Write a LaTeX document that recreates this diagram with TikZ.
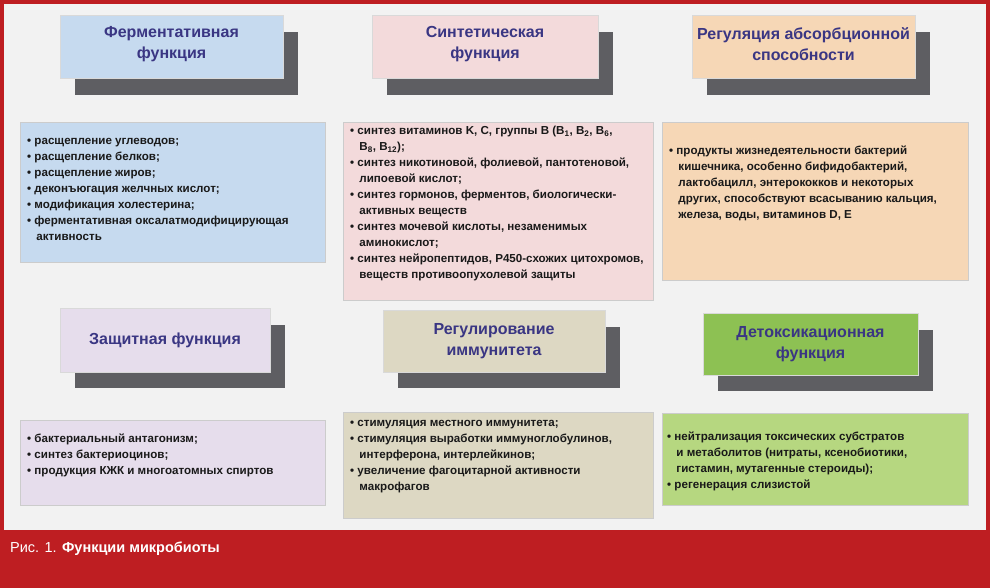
\documentclass[tikz,border=0pt]{standalone}
\usepackage{fontspec}
\setmainfont{Liberation Sans}
\definecolor{frame}{HTML}{BE1E22}
\definecolor{bgc}{HTML}{F2F2F2}
\definecolor{shd}{HTML}{5E5E62}
\definecolor{ttl}{HTML}{3A3683}
\definecolor{cblue}{HTML}{C6DAEF}
\definecolor{cpink}{HTML}{F3DADB}
\definecolor{cpeach}{HTML}{F6D7B6}
\definecolor{clav}{HTML}{E6DDEC}
\definecolor{cbeige}{HTML}{DDD8C3}
\definecolor{cgreen}{HTML}{8DC153}
\definecolor{clgreen}{HTML}{B6D780}
\tikzset{
  ttlbox/.style={draw=white!85!black,line width=0.4pt},
  shdbox/.style={fill=shd},
  ctext/.style={anchor=north west,align=left,font=\bfseries\fontsize{11.6}{16}\selectfont,inner sep=0pt,text=black!90},
  ttext/.style={align=center,font=\bfseries\fontsize{16}{21}\selectfont,text=ttl,inner sep=0pt},
  cbox/.style={draw=white!80!black,line width=0.4pt}
}
\newcommand{\bul}{\textbullet\ }
\newcommand{\ind}{\hspace*{0.8em}}
\begin{document}
\begin{tikzpicture}[x=1pt,y=-1pt]
\fill[frame] (0,0) rectangle (990,588);
\fill[bgc] (4,4) rectangle (986,530);
\node[anchor=west,text=white,font=\fontsize{14.5}{16}\selectfont,inner sep=0pt] (cap) at (10,549) {Рис. 1. \textbf{Функции микробиоты}};
% titles row 1
\fill[shdbox] (75,32) rectangle (298,95);
\fill[cblue,ttlbox] (60,15) rectangle (283,78);
\node[ttext] (t1) at (171.5,44) {Ферментативная\\функция};
\fill[shdbox] (387,32) rectangle (613,95);
\fill[cpink,ttlbox] (372,15) rectangle (598,78);
\node[ttext] (t2) at (485,44) {Синтетическая\\функция};
\fill[shdbox] (707,32) rectangle (930,95);
\fill[cpeach,ttlbox] (692,15) rectangle (915,78);
\node[ttext] (t3) at (803.5,44) {Регуляция абсорбционной\\способности};
% content row 1
\fill[cblue,cbox] (20,122) rectangle (325,262);
\node[ctext] (c1) at (27,138) {\bul расщепление углеводов;\\\bul расщепление белков;\\\bul расщепление жиров;\\\bul деконъюгация желчных кислот;\\\bul модификация холестерина;\\\bul ферментативная оксалатмодифицирующая\\\ind активность};
\fill[cpink,cbox] (343,122) rectangle (653,300);
\node[ctext] (c2) at (350,126) {\bul синтез витаминов K, C, группы B (B\textsubscript{1}, B\textsubscript{2}, B\textsubscript{6},\\\ind B\textsubscript{8}, B\textsubscript{12});\\\bul синтез никотиновой, фолиевой, пантотеновой,\\\ind липоевой кислот;\\\bul синтез гормонов, ферментов, биологически-\\\ind активных веществ\\\bul синтез мочевой кислоты, незаменимых\\\ind аминокислот;\\\bul синтез нейропептидов, P450-схожих цитохромов,\\\ind веществ противоопухолевой защиты};
\fill[cpeach,cbox] (662,122) rectangle (968,280);
\node[ctext] (c3) at (669,146) {\bul продукты жизнедеятельности бактерий\\\ind кишечника, особенно бифидобактерий,\\\ind лактобацилл, энтерококков и некоторых\\\ind других, способствуют всасыванию кальция,\\\ind железа, воды, витаминов D, E};
% titles row 2
\fill[shdbox] (75,325) rectangle (285,388);
\fill[clav,ttlbox] (60,308) rectangle (270,372);
\node[ttext] (t4) at (165,340) {Защитная функция};
\fill[shdbox] (398,327) rectangle (620,388);
\fill[cbeige,ttlbox] (383,310) rectangle (605,372);
\node[ttext] (t5) at (494,341) {Регулирование\\иммунитета};
\fill[shdbox] (718,330) rectangle (933,391);
\fill[cgreen,ttlbox] (703,313) rectangle (918,375);
\node[ttext] (t6) at (810.5,344) {Детоксикационная\\функция};
% content row 2
\fill[clav,cbox] (20,420) rectangle (325,505);
\node[ctext] (c4) at (27,434) {\bul бактериальный антагонизм;\\\bul синтез бактериоцинов;\\\bul продукция КЖК и многоатомных спиртов};
\fill[cbeige,cbox] (343,412) rectangle (653,518);
\node[ctext] (c5) at (350,420) {\bul стимуляция местного иммунитета;\\\bul стимуляция выработки иммуноглобулинов,\\\ind интерферона, интерлейкинов;\\\bul увеличение фагоцитарной активности\\\ind макрофагов};
\fill[clgreen,cbox] (662,413) rectangle (968,505);
\node[ctext] (c6) at (667,432) {\bul нейтрализация токсических субстратов\\\ind и метаболитов (нитраты, ксенобиотики,\\\ind гистамин, мутагенные стероиды);\\\bul регенерация слизистой};
\end{tikzpicture}
\end{document}
